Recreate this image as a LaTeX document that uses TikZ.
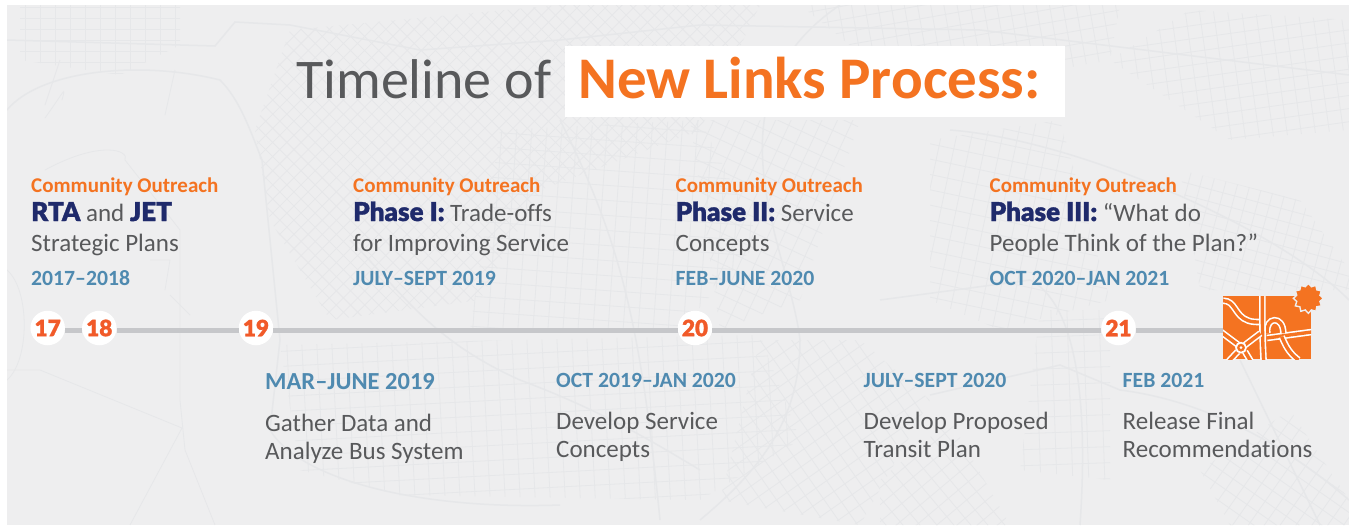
\documentclass[tikz,border=0pt]{standalone}
\usepackage{fontspec}
\setmainfont[Ligatures=NoCommon]{Carlito}
\newfontfamily\heavy[FakeBold=1.2]{Lato Black}
\usetikzlibrary{shapes.geometric}
\definecolor{bgc}{HTML}{EEEEEF}
\definecolor{mapc}{HTML}{E6E7E9}
\definecolor{orng}{HTML}{F47321}
\definecolor{redo}{HTML}{F15A29}
\definecolor{navy}{HTML}{1F2A6B}
\definecolor{steel}{HTML}{4F8AB0}
\definecolor{txtc}{HTML}{58595B}
\definecolor{barc}{HTML}{C6C7CA}
\tikzset{
 x=1pt,y=-1pt,
 outreach/.style={anchor=base west,inner sep=0,text=orng,font=\fontsize{21}{22}\selectfont\bfseries},
 head/.style={anchor=base west,inner sep=0,text=txtc,font=\fontsize{25}{26}\selectfont},
 dates/.style={anchor=base west,inner sep=0,text=steel,font=\fontsize{21.7}{22}\selectfont\bfseries},
 yeardot/.style={circle,fill=white,minimum size=34.5pt,inner sep=0,text=redo,font=\fontsize{22.5}{22}\selectfont\heavy},
 mapline/.style={draw=mapc,line width=.8pt},
 bigroad/.style={draw=mapc,line width=1.5pt},
 roadpair/.style={draw=white,line width=1.6pt,double=orng,double distance=3.4pt},
 roadone/.style={draw=white,line width=1.7pt},
 barline/.style={barc,line width=5.5pt},
}
\newcommand{\ph}[1]{{\heavy\color{navy}\fontsize{26}{26}\selectfont #1}}
\newcommand{\mapgrid}[6]{%
 \begin{scope}\clip #1;
 \begin{scope}[shift={(#2)},rotate=#3]
 \foreach \k in {-60,...,60}{
  \draw[mapline] ({\k*#4},-900) -- ({\k*#4},900);
  \draw[mapline] (-900,{\k*#5}) -- (900,{\k*#5});}
 \end{scope}\end{scope}}
\begin{document}
\begin{tikzpicture}
\useasboundingbox (0,0) rectangle (1349,525);
\fill[white] (0,0) rectangle (1349,525);
\fill[bgc] (7,5) rectangle (1349,525);
\begin{scope}
\clip (7,5) rectangle (1349,525);
\mapgrid{(20,5) -- (180,5) -- (180,45) -- (120,75) -- (20,60) -- cycle}{100,40}{0}{15}{11}{}
\mapgrid{(255,130) -- (290,30) -- (560,5) -- (760,5) -- (700,130) -- (540,190) -- (480,300) -- (330,320) -- (270,220) -- cycle}{400,100}{45}{10}{10}{}
\mapgrid{(500,130) -- (700,120) -- (760,240) -- (680,330) -- (470,330) -- cycle}{600,230}{-4}{15}{15}{}
\mapgrid{(280,345) -- (760,335) -- (800,440) -- (700,500) -- (400,495) -- (300,470) -- cycle}{500,400}{3}{15}{15}{}
\mapgrid{(690,120) -- (860,120) -- (800,300) -- (720,330) -- cycle}{760,220}{-25}{14}{14}{}
\mapgrid{(760,340) -- (860,340) -- (930,400) -- (860,525) -- (720,500) -- cycle}{800,420}{35}{13}{13}{}
\mapgrid{(930,140) -- (1060,120) -- (1110,300) -- (1000,330) -- (930,300) -- cycle}{1000,220}{-12}{15}{15}{}
\mapgrid{(1110,60) -- (1190,10) -- (1349,20) -- (1349,130) -- (1230,140) -- cycle}{1250,70}{8}{14}{13}{}
\mapgrid{(800,5) -- (1120,5) -- (1110,60) -- (1000,80) -- (850,45) -- cycle}{950,40}{10}{13}{13}{}
\mapgrid{(1180,170) -- (1300,200) -- (1349,270) -- (1349,290) -- (1200,290) -- cycle}{1260,240}{-15}{12}{12}{}
\mapgrid{(880,480) -- (950,420) -- (1010,525) -- (880,525) -- cycle}{950,480}{40}{13}{13}{}
\mapgrid{(1040,310) -- (1110,310) -- (1110,480) -- (1020,470) -- cycle}{1070,400}{2}{16}{16}{}
\mapgrid{(1200,470) -- (1290,410) -- (1349,500) -- (1349,525) -- (1230,525) -- cycle}{1280,480}{-35}{13}{13}{}
\draw[bigroad] (7,40) -- (215,46) -- (235,22) -- (290,25) -- (420,50) -- (560,40) -- (700,25) -- (980,30) -- (1349,75);
\draw[bigroad] (7,110) .. controls (40,70) and (140,60) .. (220,80) .. controls (240,100) and (250,130) .. (262,160) -- (280,340) -- (270,430) .. controls (300,480) and (420,510) .. (560,505);
\draw[mapline] (45,170) .. controls (100,140) and (130,150) .. (125,160) -- (180,230) -- (180,400) -- (185,450) -- (215,525);
\draw[mapline] (7,370) -- (40,370) -- (182,428) -- (130,525);
\draw[mapline] (7,270) .. controls (30,290) and (30,360) .. (7,380);
\draw[mapline] (60,60) -- (45,105) (175,70) -- (165,115) (62,100) .. controls (66,85) and (65,90) .. (45,118);
\draw[mapline] (150,260) -- (170,260) -- (165,290) (170,295) -- (190,315);
\draw[bigroad] (350,240) .. controls (400,290) and (430,340) .. (520,380) .. controls (600,410) and (650,440) .. (700,470);
\draw[bigroad] (560,120) .. controls (620,240) and (640,320) .. (660,520);
\draw[bigroad] (840,5) .. controls (700,100) and (790,250) .. (800,340) .. controls (800,420) and (760,470) .. (700,520);
\draw[bigroad] (880,300) -- (1030,280) .. controls (1070,300) and (1090,380) .. (1080,525);
\draw[bigroad] (950,130) .. controls (1080,140) and (1280,230) .. (1349,300);
\draw[bigroad] (930,395) -- (1060,365) -- (1120,390) .. controls (1200,400) and (1280,440) .. (1349,500);
\draw[bigroad] (1240,360) -- (1320,525);
\end{scope}
\node[fill=white,minimum width=500pt,minimum height=71pt,inner sep=0] (band) at (815,81.5) {};
\node[anchor=base west,inner sep=0,text=txtc,font=\fontsize{56}{58}\selectfont] (ttl) at (296,98) {Timeline of};
\node[anchor=base west,inner sep=0,text=orng,font=\fontsize{59}{62}\selectfont\bfseries] (ttl2) at (578,98) {New Links Process:};
\node[yeardot] (y17) at (47.7,328) {17};
\node[yeardot] (y18) at (99.3,328) {18};
\node[yeardot] (y19) at (256,328) {19};
\node[yeardot] (y20) at (695,328) {20};
\node[yeardot] (y21) at (1118.5,328) {21};
\coordinate (mapl) at (1224,330.5);
\coordinate (b17) at (47.7,330.5);
\coordinate (b18) at (99.3,330.5);
\coordinate (b19) at (256,330.5);
\coordinate (b20) at (695,330.5);
\coordinate (b21) at (1118.5,330.5);
\draw[barline] (y17.east |- b17) -- (y18.west |- b18);
\draw[barline] (y18.east |- b18) -- (y19.west |- b19);
\draw[barline] (y19.east |- b19) -- (y20.west |- b20);
\draw[barline] (y20.east |- b20) -- (y21.west |- b21);
\draw[barline] (y21.east |- b21) -- (mapl);
\begin{scope}[shift={(1215,280)},x=.33333pt,y=-.33333pt]
\begin{scope}
\clip (24,48) rectangle (288,238);
\fill[orng] (24,48) rectangle (288,238);
\draw[roadpair] (24,62) .. controls (62,62) and (58,108) .. (100,122) .. controls (112,126) and (122,126) .. (134,126);
\draw[roadpair] (156,174) -- (290,156);
\draw[roadpair] (157,160) .. controls (150,110) and (205,105) .. (205,160);
\draw[roadpair] (200,170) .. controls (215,205) and (225,220) .. (250,240);
\draw[roadpair] (142,40) .. controls (142,120) and (142,180) .. (146,245);
\draw[roadpair] (10,150) -- (70,195);
\draw[roadpair] (90,195) -- (136,160);
\draw[roadpair] (68,215) -- (40,245);
\draw[roadpair] (90,215) -- (108,245);
\fill[orng] (78,203) circle (16);
\draw[roadone] (78,203) circle (15);
\fill[white] (78,203) circle (4.5);
\end{scope}
\node[star,star points=12,star point ratio=1.25,fill=orng,draw=bgc,line width=1.4pt,minimum size=30pt,inner sep=0] (burst) at (280,55) {};
\end{scope}
\node[outreach] (o1) at (31,192.5) {Community Outreach};
\node[head] (h1a) at (31,221) {\ph{RTA} and \ph{JET}};
\node[head] (h1b) at (31,251.5) {Strategic Plans};
\node[dates] (d1) at (31,285) {2017–2018};
\node[outreach] (o2) at (353,192.5) {Community Outreach};
\node[head] (h2a) at (353,221) {\ph{Phase I:} Trade-offs};
\node[head] (h2b) at (353,251.5) {for Improving Service};
\node[dates] (d2) at (353,285) {JULY–SEPT 2019};
\node[outreach] (o3) at (675.5,192.5) {Community Outreach};
\node[head] (h3a) at (675.5,221) {\ph{Phase II:} Service};
\node[head] (h3b) at (675.5,251.5) {Concepts};
\node[dates] (d3) at (675.5,285) {FEB–JUNE 2020};
\node[outreach] (o4) at (989.5,192.5) {Community Outreach};
\node[head] (h4a) at (989.5,221) {\ph{Phase III:} “What do};
\node[head] (h4b) at (989.5,251.5) {People Think of the Plan?”};
\node[dates] (d4) at (989.5,285) {OCT 2020–JAN 2021};
\node[dates,font=\fontsize{24.5}{26}\selectfont\bfseries] (l1) at (265,389.5) {MAR–JUNE 2019};
\node[head] (l1a) at (265,431) {Gather Data and};
\node[head] (l1b) at (265,459) {Analyze Bus System};
\node[dates] (l2) at (556,387.7) {OCT 2019–JAN 2020};
\node[head] (l2a) at (556,429) {Develop Service};
\node[head] (l2b) at (556,457.5) {Concepts};
\node[dates] (l3) at (863.5,387.7) {JULY–SEPT 2020};
\node[head] (l3a) at (863.5,429) {Develop Proposed};
\node[head] (l3b) at (863.5,457.5) {Transit Plan};
\node[dates] (l4) at (1122.5,387.7) {FEB 2021};
\node[head] (l4a) at (1122.5,429) {Release Final};
\node[head] (l4b) at (1122.5,457.5) {Recommendations};
\end{tikzpicture}
\end{document}
